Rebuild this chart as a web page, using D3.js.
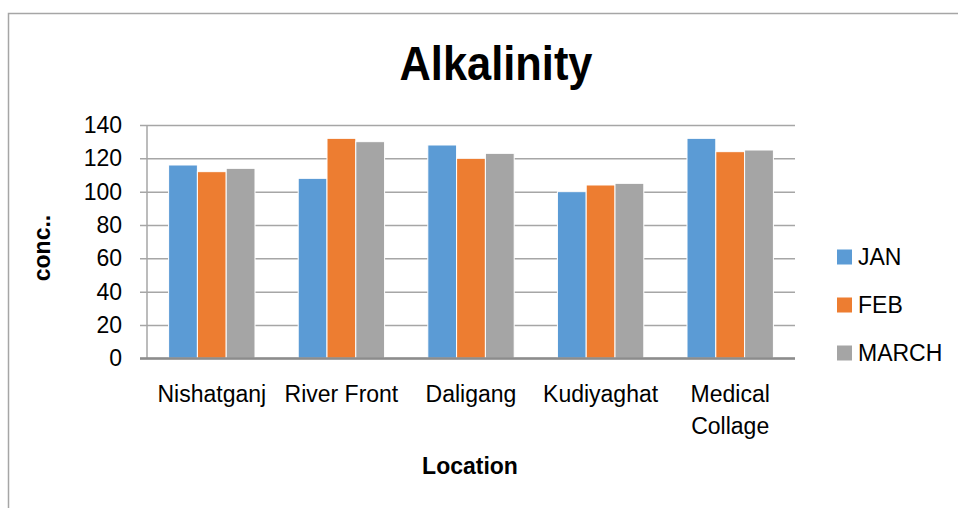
<!DOCTYPE html>
<html>
<head>
    <title></title>
    <script src="https://d3js.org/d3.v7.min.js"></script>
    <style type="text/css">
        html, body {
            margin: 0;
            padding: 0;
            background: #fff;
        }
        svg text {
            font-family: "Liberation Sans", Arial, sans-serif;
            fill: #000;
        }
    </style>
</head>
<body>

    <svg id="main"></svg>

    <script>
      // data
      const locations = ["Nishatganj", "River Front", "Daligang", "Kudiyaghat", "Medical Collage"];
      const months    = ["JAN", "FEB", "MARCH"];
      const jan       = [116, 108, 128, 100, 132];
      const feb       = [112, 132, 120, 104, 124];
      const march     = [114, 130, 123, 105, 125];
      const yTicks    = [0, 20, 40, 60, 80, 100, 120, 140];

      // settings
      const width  = 958;
      const height = 508;
      const plot   = {left: 147, right: 795, top: 125, bottom: 358.3};
      const colors = ["#5B9BD5", "#ED7D31", "#A5A5A5"];

      const seriesValues = [jan, feb, march];
      const rows = locations.map((loc, i) => ({
        loc: loc,
        vals: months.map((m, j) => ({month: m, value: seriesValues[j][i], idx: j}))
      }));

      const svg = d3.select("#main")
        .attr("width", width)
        .attr("height", height);

      // outer chart border (only top and left visible)
      svg.append("rect")
        .attr("x", 8.5).attr("y", 13.5)
        .attr("width", 1000).attr("height", 600)
        .attr("fill", "none")
        .attr("stroke", "#A6A6A6")
        .attr("stroke-width", 1.5);

      const x0 = d3.scaleBand()
        .domain(locations)
        .range([plot.left, plot.right])
        .paddingInner(1 / 3)
        .paddingOuter(1 / 6);

      const x1 = d3.scaleBand()
        .domain(months)
        .range([0, x0.bandwidth()]);

      const y = d3.scaleLinear()
        .domain([0, 140])
        .range([plot.bottom, plot.top]);

      const color = d3.scaleOrdinal(months, colors);

      // y axis + gridlines
      const yAxis = svg.append("g")
        .attr("transform", `translate(140,0)`)
        .call(d3.axisLeft(y)
          .tickValues(yTicks)
          .tickSizeInner(-(plot.right - 140))
          .tickSizeOuter(0)
          .tickPadding(18));
      yAxis.select(".domain").remove();
      yAxis.selectAll(".tick line")
        .attr("stroke", d => d === 0 ? "#8C8C8C" : "#A6A6A6")
        .attr("stroke-width", d => d === 0 ? 2 : 1.5);
      yAxis.selectAll(".tick text")
        .attr("font-size", 23)
        .attr("font-family", "Liberation Sans, Arial, sans-serif")
        .attr("fill", "#000");

      // vertical axis line
      svg.append("line")
        .attr("x1", plot.left).attr("x2", plot.left)
        .attr("y1", plot.top).attr("y2", plot.bottom)
        .attr("stroke", "#A6A6A6")
        .attr("stroke-width", 1.5);

      // bars
      const groups = svg.append("g")
        .selectAll("g")
        .data(rows)
        .enter()
        .append("g")
        .attr("transform", d => `translate(${x0(d.loc)},0)`);

      groups.selectAll("rect")
        .data(d => d.vals)
        .enter()
        .append("rect")
        .attr("x", d => x1(d.month))
        .attr("y", d => y(d.value))
        .attr("width", x1.bandwidth())
        .attr("height", d => y(0) - y(d.value))
        .attr("fill", d => color(d.month))
        .attr("stroke", "#fff")
        .attr("stroke-width", 1);

      // redraw baseline over bars
      svg.append("line")
        .attr("x1", 140).attr("x2", plot.right)
        .attr("y1", y(0)).attr("y2", y(0))
        .attr("stroke", "#8C8C8C")
        .attr("stroke-width", 2);

      // category labels (wrap on space when too wide)
      const catLabels = svg.append("g")
        .selectAll("text")
        .data(locations)
        .enter()
        .append("text")
        .attr("x", d => x0(d) + x0.bandwidth() / 2)
        .attr("y", 402)
        .attr("text-anchor", "middle")
        .attr("font-size", 23);
      catLabels.each(function (d) {
        const words = d === "Medical Collage" ? d.split(" ") : [d];
        const t = d3.select(this);
        words.forEach((w, i) => {
          t.append("tspan")
            .attr("x", x0(d) + x0.bandwidth() / 2)
            .attr("dy", i === 0 ? 0 : 32)
            .text(w);
        });
      });

      // title (condensed look)
      svg.append("text")
        .attr("transform", "translate(496,80) scale(0.886,1)")
        .attr("text-anchor", "middle")
        .attr("font-weight", "bold")
        .attr("font-size", 49)
        .text("Alkalinity");

      // axis titles
      svg.append("text")
        .attr("x", 470)
        .attr("y", 474)
        .attr("text-anchor", "middle")
        .attr("font-weight", "bold")
        .attr("font-size", 23)
        .text("Location");

      svg.append("text")
        .attr("transform", "translate(50,248) rotate(-90)")
        .attr("text-anchor", "middle")
        .attr("font-weight", "bold")
        .attr("font-size", 23)
        .text("conc..");

      // legend
      const legend = svg.append("g")
        .selectAll("g")
        .data(months)
        .enter()
        .append("g")
        .attr("transform", (d, i) => `translate(837,${257 + i * 48})`);
      legend.append("rect")
        .attr("x", 0).attr("y", -7.5)
        .attr("width", 15).attr("height", 15)
        .attr("fill", d => color(d));
      legend.append("text")
        .attr("x", 21)
        .attr("y", 8)
        .attr("font-size", 23)
        .text(d => d);
    </script>

</body>
</html>
